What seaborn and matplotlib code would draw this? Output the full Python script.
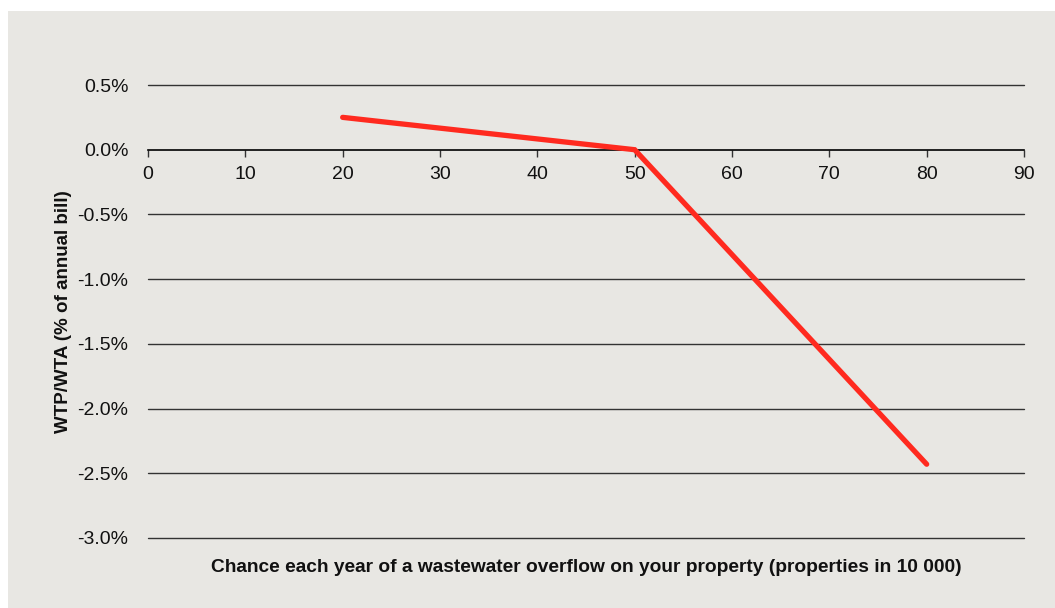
# ==========================================================
# WTP / WTA vs WASTEWATER OVERFLOW CHANCE
# ==========================================================

import pandas as pd
import matplotlib.pyplot as plt
import matplotlib.patches as patches
from matplotlib.ticker import PercentFormatter
import seaborn as sns

# ==========================================================
# DATA
# ==========================================================

chance = [20, 50, 80]

wtp_pct = [0.25, 0.0, -2.43]

x_ticks = [0, 10, 20, 30, 40, 50, 60, 70, 80, 90]

y_ticks = [0.5, 0.0, -0.5, -1.0, -1.5, -2.0, -2.5, -3.0]

df = pd.DataFrame({"chance": chance, "wtp": wtp_pct})

# ==========================================================
# STYLE
# ==========================================================

sns.set_style("white")
plt.rcParams["font.family"] = ["Liberation Sans", "DejaVu Sans"]
plt.rcParams["axes.unicode_minus"] = False

bg = "#E8E7E3"

fig = plt.figure(figsize=(10.55, 6.08), dpi=100, facecolor="white")

fig.patches.append(
    patches.Rectangle(
        (8 / 1055, 0), 1 - 8 / 1055, 1 - 11 / 608,
        transform=fig.transFigure, facecolor=bg, edgecolor="none", zorder=-5
    )
)

ax = fig.add_axes([148 / 1055, 1 - 538 / 608, (1024 - 148) / 1055, (538 - 85) / 608])
ax.set_facecolor(bg)
ax.set_zorder(1)

# ==========================================================
# GRID LINES
# ==========================================================

for v in y_ticks:
    if v != 0:
        ax.axhline(v, color="#333333", linewidth=1.0, zorder=1, clip_on=False)

# ==========================================================
# LINE
# ==========================================================

sns.lineplot(
    data=df,
    x="chance",
    y="wtp",
    color="#FF2A1F",
    linewidth=3.8,
    solid_capstyle="round",
    solid_joinstyle="miter",
    zorder=3,
    ax=ax
)

# ==========================================================
# AXES
# ==========================================================

ax.set_xlim(0, 90)
ax.set_ylim(-3.0, 0.5)

ax.set_xticks(x_ticks)
ax.set_yticks(y_ticks)

ax.yaxis.set_major_formatter(PercentFormatter(decimals=1))

for s in ["top", "right", "left"]:
    ax.spines[s].set_visible(False)

ax.spines["bottom"].set_position(("data", 0))
ax.spines["bottom"].set_color("black")
ax.spines["bottom"].set_linewidth(1.2)
ax.spines["bottom"].set_zorder(2)

ax.tick_params(axis="x", bottom=True, direction="out", length=5, width=1,
               color="#333333", labelsize=14, pad=7, labelcolor="#111111")
ax.tick_params(axis="y", left=False, length=0, labelsize=14, pad=14,
               labelcolor="#111111")

ax.set_xlabel("")
ax.set_ylabel("WTP/WTA (% of annual bill)", fontsize=13.5, fontweight="bold",
              color="#111111", labelpad=4)

fig.text(
    586 / 1055, 1 - 568 / 608,
    "Chance each year of a wastewater overflow on your property (properties in 10 000)",
    ha="center", va="center", fontsize=13.8, fontweight="bold", color="#111111"
)

fig.savefig("out.png", dpi=100, facecolor=fig.get_facecolor())
